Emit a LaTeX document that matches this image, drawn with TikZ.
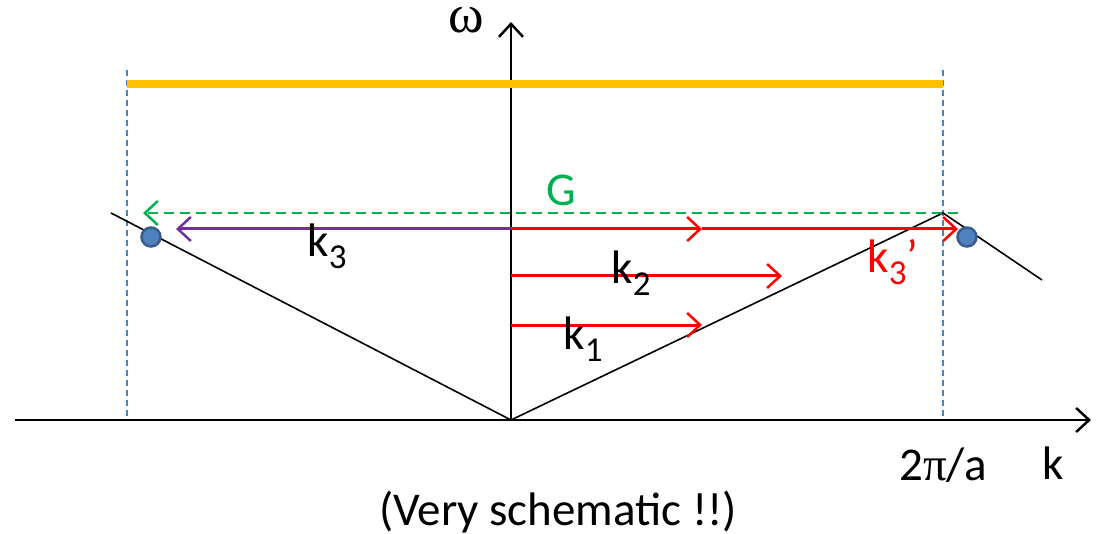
\documentclass[tikz,border=0pt]{standalone}
\usepackage{fontspec}
\setmainfont{Carlito}
\newfontfamily\serifsym{Liberation Serif}
\usetikzlibrary{arrows.meta}
\definecolor{gold}{RGB}{255,192,0}
\definecolor{dashblue}{RGB}{79,129,189}
\definecolor{gr}{RGB}{0,176,80}
\definecolor{pur}{RGB}{112,48,160}
\definecolor{rd}{RGB}{255,0,0}
\definecolor{dotfill}{RGB}{79,129,189}
\definecolor{dotline}{RGB}{56,93,138}
\tikzset{
  barb/.style={-{Straight Barb[length=13pt,width=24pt,line width=2.5pt]}},
  axisline/.style={line width=2.4pt,barb},
  vline/.style={line width=1.6pt},
  redarrow/.style={rd,line width=3pt,barb},
  lbl/.style={inner sep=0pt,font=\fontsize{47}{52}\selectfont},
  bz/.style={dashblue,line width=1.3pt,dash pattern=on 6pt off 4pt},
  dot/.style={circle,fill=dotfill,draw=dotline,line width=2.5pt,minimum size=19pt,inner sep=0pt},
}
\newcommand{\sub}[1]{\raisebox{-12pt}{\fontsize{35}{38}\selectfont #1}}
\begin{document}
\begin{tikzpicture}[x=1pt,y=-1pt]
\useasboundingbox (0,0) rectangle (1107,534);
% coordinates
\coordinate (O) at (511,420);
\coordinate (xL) at (15,420);
\coordinate (xR) at (1091,420);
\coordinate (yT) at (511,22);
\coordinate (P) at (943,213);
\coordinate (L) at (111,213);
\coordinate (Rend) at (1042,280);
\coordinate (BL0) at (127,70);
\coordinate (BL1) at (127,420);
\coordinate (BR0) at (943,70);
\coordinate (BR1) at (943,420);
\coordinate (Og) at (127,84);
\coordinate (Eg) at (943,84);
\coordinate (Gs) at (958,213);
\coordinate (Ge) at (143,213);
\coordinate (K3s) at (511,229);
\coordinate (K3e) at (176,229);
\coordinate (K3m) at (702,229);
\coordinate (K3pe) at (958,229);
\coordinate (K2s) at (511,276);
\coordinate (K2e) at (782,276);
\coordinate (K1s) at (511,325);
\coordinate (K1e) at (702,325);
% boundaries
\draw[bz] (BL0) -- (BL1);
\draw[bz] (BR0) -- (BR1);
% dispersion
\draw[vline] (L) -- (O) -- (P) -- (Rend);
% axes
\draw[axisline] (xL) -- (xR);
\draw[axisline] (O) -- (yT);
% gold band
\draw[gold,line width=8pt] (Og) -- (Eg);
% G vector
\draw[gr,line width=2.6pt,dash pattern=on 10pt off 6pt,barb] (Gs) -- (Ge);
% k3 purple
\draw[pur,line width=3pt,barb] (K3s) -- (K3e);
% red arrows
\draw[redarrow] (K3s) -- (K3m);
\draw[redarrow] (K3m) -- (K3pe);
\draw[redarrow] (K2s) -- (K2e);
\draw[redarrow] (K1s) -- (K1e);
% dots
\node[dot] (d1) at (151,237) {};
\node[dot] (d2) at (967,237) {};
% labels
\node[lbl,font=\serifsym\fontsize{54}{58}\selectfont,anchor=base] (w) at (466,33) {ω};
\node[lbl,gr] (G) at (561,190) {G};
\node[lbl] (k3) at (327,246) {k\sub{3}};
\node[lbl,rd] (k3p) at (893,262) {k\sub{3}’};
\node[lbl] (k2) at (631,273) {k\sub{2}};
\node[lbl] (k1) at (583,339) {k\sub{1}};
\node[lbl] (tpa) at (943,465) {2{\serifsym π}/a};
\node[lbl] (k) at (1053,463) {k};
\node[lbl] (note) at (558,512) {(Very schematic !!)};
\end{tikzpicture}
\end{document}
